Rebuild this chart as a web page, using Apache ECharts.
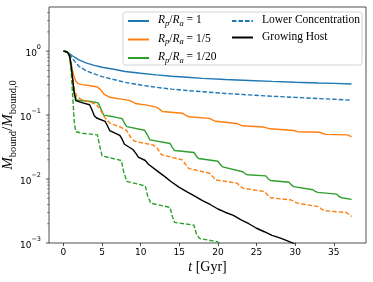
<!DOCTYPE html>
<html>
<head>
<meta charset="utf-8">
<script src="https://cdn.jsdelivr.net/npm/echarts@6/dist/echarts.min.js"></script>
<style>
html,body{margin:0;padding:0;background:#fff;}
#c{width:373px;height:282px;}
</style>
</head>
<body>
<div id="c"></div>
<script>
// ---- data (t in Gyr, M_bound / M_bound,0) ----
const tR1 = [0, 0.4, 0.8, 1.2, 2, 3, 4, 5, 6.5, 8, 10, 12, 14, 16, 18, 21, 24, 27, 30, 33, 35, 37.3];
const mR1 = [1, 0.99, 0.91, 0.84, 0.73, 0.65, 0.6, 0.56, 0.52, 0.48, 0.45, 0.425, 0.405, 0.39, 0.375, 0.36, 0.348, 0.337, 0.327, 0.318, 0.313, 0.307];

const tR5 = [0, 0.5, 0.8, 1.0, 1.2, 1.4, 1.6, 1.9, 2.4, 3.3, 4.4, 4.8, 5.3, 6.0, 7.5, 8.5, 8.9, 9.3, 11.0, 12.0, 12.4, 12.8, 15.4, 15.8, 16.2, 18.9, 19.3, 19.7, 22.4, 22.8, 23.2, 25.9, 26.3, 26.7, 29.5, 29.9, 30.3, 33.1, 33.5, 33.9, 36.7, 37.3];
const mR5 = [1, 0.97, 0.85, 0.65, 0.48, 0.39, 0.34, 0.31, 0.3, 0.29, 0.275, 0.25, 0.21, 0.19, 0.178, 0.17, 0.162, 0.152, 0.142, 0.133, 0.125, 0.114, 0.107, 0.1, 0.094, 0.089, 0.084, 0.08, 0.074, 0.071, 0.068, 0.065, 0.063, 0.061, 0.058, 0.057, 0.055, 0.054, 0.052, 0.05, 0.049, 0.046];

const tR20 = [0, 0.5, 0.8, 1.0, 1.2, 1.4, 1.7, 2.5, 3.5, 4.5, 4.8, 5.2, 6.5, 7.6, 7.9, 8.2, 10.5, 10.9, 11.2, 13.8, 14.1, 14.4, 16.9, 17.2, 17.5, 20.0, 20.3, 20.6, 23.2, 23.5, 23.8, 26.2, 26.5, 26.8, 29.2, 29.5, 29.8, 32.3, 32.6, 32.9, 35.4, 35.7, 36.0, 37.3];
const mR20 = [1, 0.97, 0.85, 0.6, 0.36, 0.22, 0.172, 0.168, 0.163, 0.155, 0.13, 0.1, 0.094, 0.088, 0.075, 0.066, 0.058, 0.048, 0.041, 0.036, 0.031, 0.028, 0.026, 0.023, 0.021, 0.019, 0.017, 0.0155, 0.013, 0.0122, 0.0117, 0.0112, 0.0101, 0.0095, 0.0089, 0.0081, 0.0076, 0.0068, 0.0064, 0.0062, 0.0058, 0.0053, 0.0051, 0.0048];

const tLowR1 = [0, 0.4, 0.8, 1.2, 2, 3, 4, 5, 6.5, 8, 10, 12, 14, 16, 18, 21, 24, 27, 30, 33, 35, 37.3];
const mLowR1 = [1, 0.98, 0.88, 0.76, 0.58, 0.49, 0.44, 0.40, 0.36, 0.325, 0.295, 0.272, 0.255, 0.242, 0.232, 0.218, 0.207, 0.197, 0.189, 0.181, 0.177, 0.171];

const tLowR5 = [0, 0.5, 0.8, 1.0, 1.2, 1.4, 1.7, 2.2, 3.5, 4.3, 4.8, 5.4, 6.0, 7.5, 8.2, 8.7, 9.2, 11.6, 12.1, 12.7, 15.4, 15.8, 16.2, 18.9, 19.3, 19.7, 22.5, 22.8, 23.2, 26.0, 26.4, 26.8, 29.5, 29.9, 30.3, 33.0, 33.4, 33.8, 36.6, 37.3];
const mLowR5 = [1, 0.97, 0.85, 0.6, 0.38, 0.26, 0.2, 0.178, 0.16, 0.145, 0.12, 0.09, 0.075, 0.064, 0.057, 0.045, 0.039, 0.034, 0.031, 0.024, 0.0199, 0.017, 0.0147, 0.0123, 0.011, 0.0097, 0.0086, 0.0079, 0.0072, 0.0064, 0.0057, 0.0051, 0.0047, 0.0044, 0.0042, 0.0037, 0.0034, 0.0032, 0.003, 0.0026];

const tLowR20 = [0, 0.5, 0.8, 1.0, 1.2, 1.4, 1.6, 2.5, 4.4, 4.7, 5.0, 7.5, 7.8, 8.2, 10.6, 10.9, 11.3, 13.8, 14.1, 14.4, 16.9, 17.2, 17.6, 20.0, 20.4];
const mLowR20 = [1, 0.97, 0.8, 0.5, 0.2, 0.08, 0.055, 0.052, 0.049, 0.033, 0.023, 0.0195, 0.013, 0.0092, 0.0078, 0.0055, 0.0042, 0.0036, 0.0026, 0.0021, 0.0019, 0.0014, 0.00118, 0.00104, 0.00092];

const tGrow = [0, 0.5, 0.8, 1.0, 1.2, 1.4, 1.6, 2.5, 3.4, 3.7, 4.0, 4.3, 5.4, 5.7, 6.0, 7.3, 7.6, 7.9, 9.0, 9.4, 9.7, 10.6, 11.0, 12.0, 13.0, 14.0, 15.0, 16.0, 17.0, 18.0, 19.0, 20.0, 21.0, 22.0, 23.0, 24.0, 25.0, 26.0, 27.0, 28.0, 29.0, 30.0];
const mGrow = [1, 0.97, 0.85, 0.6, 0.36, 0.22, 0.168, 0.155, 0.145, 0.12, 0.098, 0.09, 0.08, 0.068, 0.057, 0.048, 0.042, 0.035, 0.029, 0.025, 0.022, 0.0195, 0.017, 0.0138, 0.0112, 0.009, 0.0074, 0.0063, 0.0054, 0.0046, 0.004, 0.0034, 0.003, 0.0027, 0.0023, 0.002, 0.0017, 0.0015, 0.00132, 0.0012, 0.00108, 0.00096];

const xTicks = [0, 5, 10, 15, 20, 25, 30, 35];
const yMajorTicks = [0.001, 0.01, 0.1, 1];
const yMinorMult = [2, 3, 4, 5, 6, 7, 8, 9];

// ---- chart ----
const zip = (t, m) => t.map((x, i) => [x, m[i]]);
const BLUE = '#1f77b4', ORANGE = '#ff7f0e', GREEN = '#2ca02c', BLACK = '#000000';
const LW = 1.4, DASH = [4.5, 2];
const SERIF = 'Liberation Serif';
const AX = '#222';

const richLegend = {
  i: {fontFamily: SERIF, fontStyle: 'italic', fontSize: 11.5, lineHeight: 14, verticalAlign: 'top', color: '#000'},
  s: {fontFamily: SERIF, fontStyle: 'italic', fontSize: 8.5, lineHeight: 8, verticalAlign: 'bottom', color: '#000'},
  n: {fontFamily: SERIF, fontSize: 11.5, lineHeight: 14, verticalAlign: 'top', color: '#000'}
};
const legendLabels = {
  'R1': '{i|R}{s|p}{n|/}{i|R}{s|a}{n| = 1}',
  'R5': '{i|R}{s|p}{n|/}{i|R}{s|a}{n| = 1/5}',
  'R20': '{i|R}{s|p}{n|/}{i|R}{s|a}{n| = 1/20}',
  'Lower Concentration': '{n|Lower Concentration}',
  'Growing Host': '{n|Growing Host}'
};

function lineSeries(name, t, m, color, dashed) {
  return {
    name: name, type: 'line', data: zip(t, m), symbol: 'none', showSymbol: false,
    lineStyle: {color: color, width: LW, type: dashed ? DASH : 'solid', cap: 'butt'},
    itemStyle: {color: color},
    clip: true, animation: false, z: 2
  };
}

const chart = echarts.init(document.getElementById('c'), null, {renderer: 'canvas'});
const GRID = {left: 49, right: 7, top: 7, bottom: 39};

const legendCommon = {
  orient: 'vertical', top: 14, padding: 0,
  itemWidth: 21, itemHeight: 12, itemGap: 4.5,
  formatter: n => legendLabels[n],
  itemStyle: {color: 'rgba(0,0,0,0)', borderWidth: 0, opacity: 0},
  textStyle: {padding: [0, 0, 0, 4], rich: richLegend},
  selectedMode: false
};

const option = {
  animation: false,
  backgroundColor: '#fff',
  grid: {left: GRID.left, right: GRID.right, top: GRID.top, bottom: GRID.bottom, containLabel: false, outerBoundsMode: 'none', show: true, borderColor: AX, borderWidth: 0.8, backgroundColor: 'transparent'},
  xAxis: {
    type: 'value', min: -1.865, max: 39.165,
    splitLine: {show: false},
    axisLine: {show: false},
    axisTick: {show: true, customValues: xTicks, length: 3, lineStyle: {color: AX, width: 0.8}},
    axisLabel: {show: true, customValues: xTicks, margin: 5, fontFamily: 'DejaVu Sans', fontSize: 9, color: '#000'},
    name: '{i|t}{n| [Gyr]}',
    nameLocation: 'middle', nameGap: 17, nameMoveOverlap: false,
    nameTextStyle: {rich: {
      i: {fontFamily: SERIF, fontStyle: 'italic', fontSize: 14, color: '#000'},
      n: {fontFamily: SERIF, fontSize: 14, color: '#000'}
    }}
  },
  yAxis: {
    type: 'log', logBase: 10, min: 0.001, max: 4.9,
    splitLine: {show: false},
    axisLine: {show: false},
    axisTick: {show: false},
    minorTick: {show: false},
    axisLabel: {
      show: true, margin: 8,
      formatter: function (v) {
        const e = Math.log10(v);
        const r = Math.round(e);
        if (Math.abs(e - r) > 1e-6) return '';
        return '{b|10}{sup|' + (r < 0 ? '\u2212' + (-r) : r) + '}';
      },
      rich: {
        b: {fontFamily: 'DejaVu Sans', fontSize: 9, lineHeight: 14, verticalAlign: 'bottom', color: '#000'},
        sup: {fontFamily: 'DejaVu Sans', fontSize: 6.5, lineHeight: 6, verticalAlign: 'top', color: '#000'}
      }
    },
    name: '{i|M}{s|bound}{n|/}{i|M}{s|bound,0}',
    nameLocation: 'middle', nameGap: 30, nameRotate: 90, nameMoveOverlap: false,
    nameTextStyle: {rich: {
      i: {fontFamily: SERIF, fontStyle: 'italic', fontSize: 15, lineHeight: 18, verticalAlign: 'top', color: '#000'},
      s: {fontFamily: SERIF, fontSize: 10.5, lineHeight: 10, verticalAlign: 'bottom', color: '#000'},
      n: {fontFamily: SERIF, fontSize: 15, lineHeight: 18, verticalAlign: 'top', color: '#000'}
    }}
  },
  legend: [
    Object.assign({}, legendCommon, {data: ['R1', 'R5', 'R20'], left: 127}),
    Object.assign({}, legendCommon, {data: ['Lower Concentration', 'Growing Host'], left: 231})
  ],
  series: [
    lineSeries('R1', tR1, mR1, BLUE, false),
    lineSeries('R5', tR5, mR5, ORANGE, false),
    lineSeries('R20', tR20, mR20, GREEN, false),
    lineSeries('Lower Concentration', tLowR1, mLowR1, BLUE, true),
    lineSeries('Lower Concentration R5', tLowR5, mLowR5, ORANGE, true),
    lineSeries('Lower Concentration R20', tLowR20, mLowR20, GREEN, true),
    lineSeries('Growing Host', tGrow, mGrow, BLACK, false)
  ]
};
chart.setOption(option);

// y-axis major & minor ticks (log scale), positioned via the axis scale
const els = [];
const x0 = chart.convertToPixel({xAxisIndex: 0}, -1.865);
function addTick(v, len, w) {
  const y = chart.convertToPixel({yAxisIndex: 0}, v);
  els.push({type: 'line', silent: true, z: 5,
    shape: {x1: x0 - len, y1: y, x2: x0, y2: y},
    style: {stroke: AX, lineWidth: w}});
}
yMajorTicks.forEach(v => addTick(v, 3, 0.8));
yMajorTicks.forEach(d => yMinorMult.forEach(k => {
  const v = d * k;
  if (v < 4.9) addTick(v, 1.8, 0.6);
}));
// legend frame
els.push({type: 'rect', silent: true, z: 3,
  shape: {x: 123, y: 12, width: 239, height: 53, r: 2.5},
  style: {fill: 'rgba(255,255,255,0.8)', stroke: '#d4d4d4', lineWidth: 1}});
chart.setOption({graphic: els});
</script>
</body>
</html>
